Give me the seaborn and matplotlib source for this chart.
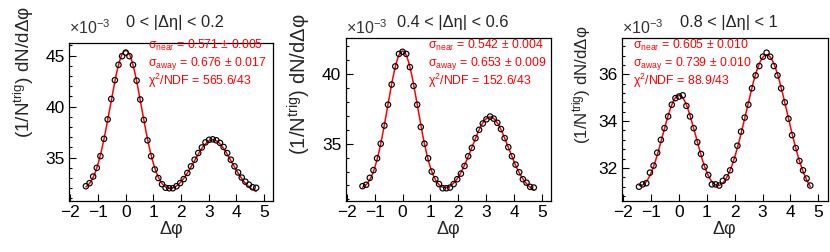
import numpy as np
import pandas as pd
import matplotlib
matplotlib.use("Agg")
import matplotlib.pyplot as plt
import seaborn as sns
from matplotlib.ticker import MultipleLocator

# bin centres in delta-phi (k * pi/24, k = -11..36)
dphi = [-1.440, -1.309, -1.178, -1.047, -0.916, -0.785, -0.654, -0.524, -0.393, -0.262,
        -0.131, 0.000, 0.131, 0.262, 0.393, 0.524, 0.654, 0.785, 0.916, 1.047,
        1.178, 1.309, 1.440, 1.571, 1.702, 1.833, 1.963, 2.094, 2.225, 2.356,
        2.487, 2.618, 2.749, 2.880, 3.011, 3.142, 3.272, 3.403, 3.534, 3.665,
        3.796, 3.927, 4.058, 4.189, 4.320, 4.451, 4.581, 4.712]

# yields, in units of 1e-3
yield_00_02 = [32.20, 32.50, 33.15, 34.00, 35.15, 36.85, 38.75, 40.75, 42.60, 44.10,
               44.95, 45.30, 44.95, 44.10, 42.55, 40.70, 38.70, 36.70, 35.15, 33.85,
               33.00, 32.40, 32.05, 32.00, 32.00, 32.20, 32.50, 32.90, 33.50, 34.15,
               34.80, 35.45, 36.00, 36.50, 36.75, 36.80, 36.70, 36.45, 36.05, 35.45,
               34.80, 34.15, 33.55, 33.05, 32.65, 32.35, 32.10, 32.05]
yield_04_06 = [31.95, 32.05, 32.55, 33.10, 33.95, 35.00, 36.30, 37.80, 39.25, 40.55,
               41.45, 41.60, 41.45, 40.50, 39.15, 37.80, 36.20, 35.00, 33.95, 33.00,
               32.45, 32.10, 31.80, 31.80, 31.85, 32.10, 32.45, 32.85, 33.40, 34.10,
               34.70, 35.40, 36.00, 36.45, 36.75, 36.95, 36.80, 36.50, 36.05, 35.40,
               34.75, 34.10, 33.50, 32.95, 32.45, 32.20, 31.90, 31.85]
yield_08_10 = [31.20, 31.30, 31.35, 31.80, 32.10, 32.65, 33.20, 33.70, 34.20, 34.70,
               34.98, 35.05, 35.10, 34.65, 34.20, 33.70, 33.10, 32.60, 32.05, 31.70,
               31.30, 31.30, 31.25, 31.45, 31.60, 31.90, 32.35, 32.95, 33.55, 34.15,
               34.70, 35.40, 35.95, 36.35, 36.75, 36.92, 36.75, 36.35, 35.95, 35.40,
               34.80, 34.10, 33.40, 32.85, 32.30, 31.90, 31.55, 31.25]

titles = ["0 < |Δη| < 0.2", "0.4 < |Δη| < 0.6", "0.8 < |Δη| < 1"]

# fit parameters: pedestal, near amplitude, sigma_near, away amplitude, sigma_away
fit_base = [31.31, 31.39, 30.55]
fit_amp_near = [14.19, 10.26, 4.55]
fit_amp_away = [5.44, 5.53, 6.28]
sigma_near = [0.571, 0.542, 0.605]
sigma_near_err = [0.005, 0.004, 0.010]
sigma_away = [0.676, 0.653, 0.739]
sigma_away_err = [0.017, 0.009, 0.010]
chi2 = [565.6, 152.6, 88.9]
ndf = [43, 43, 43]

ylims = [(30.78, 46.27), (30.92, 42.57), (30.59, 37.56)]
ymajor = [5, 5, 2]

sns.set_theme(style="ticks")
plt.rcParams['font.family'] = ['Liberation Sans', 'DejaVu Sans']
plt.rcParams['mathtext.fontset'] = 'custom'
plt.rcParams['mathtext.rm'] = 'Liberation Sans'
plt.rcParams['mathtext.it'] = 'Liberation Sans'
plt.rcParams['mathtext.sf'] = 'Liberation Sans'

W, H = 830, 252
fig = plt.figure(figsize=(W / 100, H / 100), dpi=100)

# frame boxes in pixels: left, right, top, bottom
frames = [(69, 273.3, 42.7, 200.7), (345.5, 551, 38.3, 200.5), (622, 827.5, 37.7, 201)]
ylab_pos = [(24, 72), (299, 84), (582, 85)]
ylab_size = [13.6, 14.6, 12.2]
text_x = [148, 428, 633]

series = [yield_00_02, yield_04_06, yield_08_10]
red = '#ff0000'

for i in range(3):
    l, r, t, b = frames[i]
    ax = fig.add_axes([l / W, 1 - b / H, (r - l) / W, (b - t) / H])
    df = pd.DataFrame({'dphi': dphi, 'y': series[i]})

    xs = np.linspace(dphi[0], dphi[-1], 400)
    fit = (fit_base[i]
           + fit_amp_near[i] * np.exp(-xs ** 2 / (2 * sigma_near[i] ** 2))
           + fit_amp_away[i] * np.exp(-(xs - np.pi) ** 2 / (2 * sigma_away[i] ** 2))
           + fit_amp_away[i] * np.exp(-(xs + np.pi) ** 2 / (2 * sigma_away[i] ** 2)))
    fdf = pd.DataFrame({'dphi': xs, 'fit': fit})

    sns.scatterplot(data=df, x='dphi', y='y', ax=ax, marker='o', s=15,
                    facecolor='none', edgecolor='black', linewidth=0.85, zorder=3)
    sns.lineplot(data=fdf, x='dphi', y='fit', ax=ax, color=red, linewidth=1.1, zorder=2)

    ax.set_xlim(-2.05, 5.33)
    ax.set_ylim(*ylims[i])
    ax.xaxis.set_major_locator(MultipleLocator(1))
    ax.yaxis.set_major_locator(MultipleLocator(ymajor[i]))
    ax.yaxis.set_minor_locator(MultipleLocator(ymajor[i] / 5))
    ax.tick_params(which='both', direction='in', top=False, right=False,
                   labelsize=12.5, colors='black', width=0.8)
    ax.tick_params(which='major', length=5, pad=3)
    ax.tick_params(which='minor', length=2.5)
    ax.xaxis.set_major_formatter(matplotlib.ticker.FuncFormatter(
        lambda v, p: f"{v:.0f}".replace('-', '\u2212')))
    for s in ax.spines.values():
        s.set_linewidth(0.9)
        s.set_color('black')
    ax.set_xlabel('')
    ax.set_ylabel('')

    cx = (l + r) / 2
    fig.text(cx / W, 1 - 230 / H, 'Δφ', ha='center', va='center', fontsize=13)
    fig.text(cx / W + 0.005, 1 - 22 / H, titles[i], ha='center', va='center', fontsize=11.8)
    fig.text(l / W, 1 - 34.5 / H, r'×10$^{-3}$', ha='left', va='baseline',
             fontsize=11.5, color='#333333')
    yx, yy = ylab_pos[i]
    fig.text(yx / W, 1 - yy / H, r'(1/N$^{\rm trig}$) dN/dΔφ', rotation=90,
             ha='center', va='center', fontsize=ylab_size[i])

    lines = [f'σ$_{{\\rm near}}$ = {sigma_near[i]:.3f} ± {sigma_near_err[i]:.3f}',
             f'σ$_{{\\rm away}}$ = {sigma_away[i]:.3f} ± {sigma_away_err[i]:.3f}',
             f'χ$^{{2}}$/NDF = {chi2[i]:.1f}/{ndf[i]}']
    for j, txt in enumerate(lines):
        fig.text(text_x[i] / W, 1 - (45 + 18 * j) / H, txt, ha='left', va='center',
                 fontsize=8.8, color=red)

fig.savefig('out.png', dpi=100)
